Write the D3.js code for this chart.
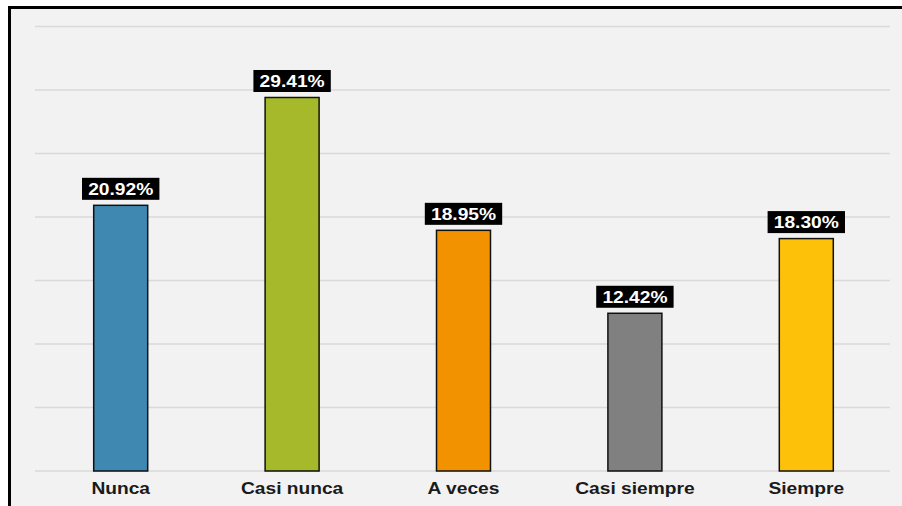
<!DOCTYPE html>
<html><head><meta charset="utf-8">
<script src="https://cdn.jsdelivr.net/npm/d3@7"></script>
<style>html,body{margin:0;padding:0;background:#fff;}svg{display:block;}</style>
</head><body>
<svg id="chart" width="902" height="506"></svg>
<script>
const categories = ["Nunca", "Casi nunca", "A veces", "Casi siempre", "Siempre"];
const values = [20.92, 29.41, 18.95, 12.42, 18.30];
const colors = ["#3f88b2", "#a6b92a", "#f39200", "#808080", "#fec10a"];
const yTicks = [0, 5, 10, 15, 20, 25, 30, 35];

const svg = d3.select("#chart");
svg.append("rect").attr("x", 9.5).attr("y", 7.5).attr("width", 900).attr("height", 510)
  .attr("fill", "#f2f2f2").attr("stroke", "#000").attr("stroke-width", 3);

const x = d3.scaleBand().domain(categories).range([35, 892]).paddingInner(0.685).paddingOuter(0.3425);
const y = d3.scaleLinear().domain([0, 35]).range([471, 26.5]);

svg.append("g").selectAll("line").data(yTicks).join("line")
  .attr("x1", 35).attr("x2", 890)
  .attr("y1", d => y(d)).attr("y2", d => y(d))
  .attr("stroke", "#d9d9d9").attr("stroke-width", 1.3);

svg.append("g").selectAll("rect").data(values).join("rect")
  .attr("x", (d, i) => x(categories[i]))
  .attr("width", x.bandwidth())
  .attr("y", d => y(d))
  .attr("height", d => y(0) - y(d))
  .attr("fill", (d, i) => colors[i])
  .attr("stroke", "#111").attr("stroke-width", 1.5);

const SX = 1.2;
const xAxis = d3.axisBottom(x).tickSize(0).tickPadding(12);
const gx = svg.append("g").attr("transform", `translate(0,${y(0)})`).call(xAxis);
gx.select(".domain").remove();
gx.selectAll("text").attr("font-family", "Liberation Sans, Arial, sans-serif")
  .attr("font-size", 16).attr("font-weight", "bold").attr("fill", "#1a1a1a")
  .attr("transform", `scale(${SX},1)`);

const labels = svg.append("g").selectAll("g").data(values).join("g")
  .attr("transform", (d, i) => `translate(${x(categories[i]) + x.bandwidth() / 2},${y(d) - 16.5})`);
labels.each(function (d) {
  const g = d3.select(this);
  const t = g.append("text").text(d.toFixed(2) + "%")
    .attr("text-anchor", "middle").attr("dy", "0.36em")
    .attr("font-family", "Liberation Sans, Arial, sans-serif")
    .attr("font-size", 16).attr("font-weight", "bold").attr("fill", "#fff")
    .attr("transform", `scale(${SX},1)`);
  const w = t.node().getBBox().width * SX;
  g.insert("rect", "text").attr("x", -w / 2 - 6).attr("y", -11)
    .attr("width", w + 12).attr("height", 22).attr("fill", "#000");
});
</script>
</body></html>
